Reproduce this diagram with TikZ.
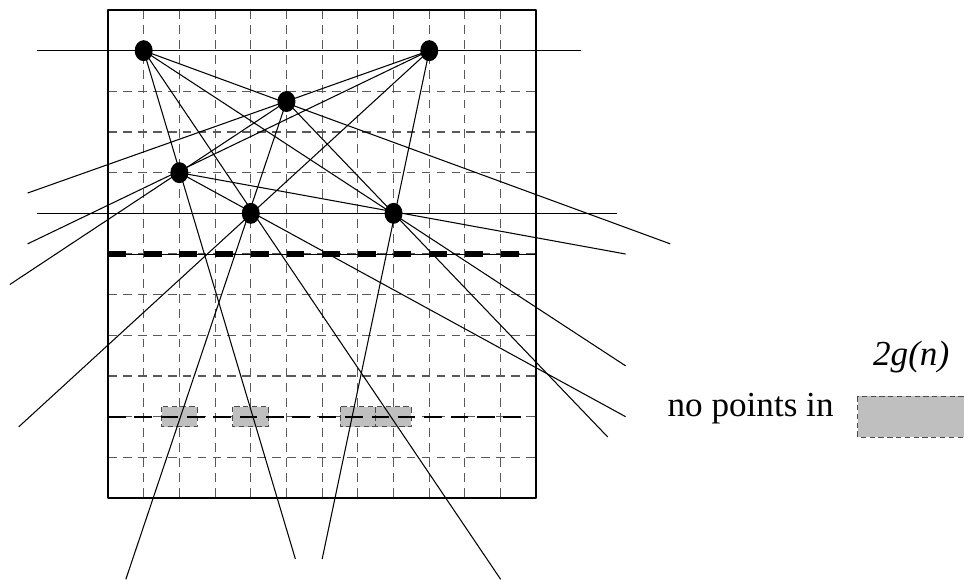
\documentclass[tikz,border=0pt]{standalone}
\usepackage{fontspec}
\setmainfont{Liberation Serif}
\usetikzlibrary{arrows.meta,shapes.geometric}
\tikzset{
  every picture/.style={line join=round, >=Stealth},
  gridline/.style={dash pattern=on 5pt off 3.5pt, black!65, line width=0.6pt},
  pt/.style={ellipse, fill=black, inner sep=0pt, minimum width=0.36cm, minimum height=0.42cm},
  hole/.style={fill=black!25, draw=black!70, dash pattern=on 3pt off 2pt, line width=0.5pt},
  ray/.style={line width=0.6pt},
  label text/.style={font=\fontsize{20}{24}\selectfont},
}

\begin{document}
\begin{tikzpicture}[x=0.714cm,y=-0.8134cm]
\useasboundingbox(-3.025,-0.246)rectangle(23.98,14.015);
% grid
\foreach \i in {1,...,11}{
  \draw[gridline](\i,0)--(\i,12);
  \draw[gridline](0,\i)--(12,\i);
}
\foreach \c in {1.5,3.5,6.5,7.5}
  \draw[hole](\c,9.75)rectangle(\c+1,10.25);
\draw[line width=1.1pt](0,0)rectangle(12,12);
\draw[line width=0.5pt](0,6)--(12,6);
\draw[line width=3pt,dash pattern=on 10.16pt off 10.16pt](0,6)--(12,6);
\draw[line width=1.1pt,dash pattern=on 10pt off 5pt](0,10)--(11.8,10);
% points
\node[pt](A)at(1,1){};
\node[pt](B)at(9,1){};
\node[pt](C)at(5,2.25){};
\node[pt](D)at(2,4){};
\node[pt](E)at(4,5){};
\node[pt](F)at(8,5){};
% free ends
\coordinate(ab1)at(-2,1);
\coordinate(ab2)at(13.25,1);
\coordinate(ef1)at(-2,5);
\coordinate(ef2)at(14.25,5);
\coordinate(ac)at(15.75,5.75);
\coordinate(ad)at(5.25,13.5);
\coordinate(ae)at(11,14);
\coordinate(af)at(14.5,8.75);
\coordinate(bc)at(-2.25,4.5);
\coordinate(bd)at(-2.25,5.75);
\coordinate(be)at(-2.5,10.25);
\coordinate(bf)at(6,13.5);
\coordinate(cd)at(-2.75,6.75);
\coordinate(ce)at(0.5,14);
\coordinate(cf)at(14,10.5);
\coordinate(de)at(14.5,10);
\coordinate(df)at(14.5,6);
\draw[ray](ab1)--(ab2);
\draw[ray](ef1)--(ef2);
\foreach \p/\q in {A/ac,A/ad,A/ae,A/af,B/bc,B/bd,B/be,B/bf,C/cd,C/ce,C/cf,D/de,D/df}
  \draw[ray](\p.center)--(\q);
% legend
\draw[hole](21,9.5)rectangle(24.3,10.5);
\node[label text,anchor=base east](nopts)at(20.5,10){no points in};
\node[label text,anchor=base](width)at(22.5,8.75){\itshape 2g(n)};
\end{tikzpicture}
\end{document}
